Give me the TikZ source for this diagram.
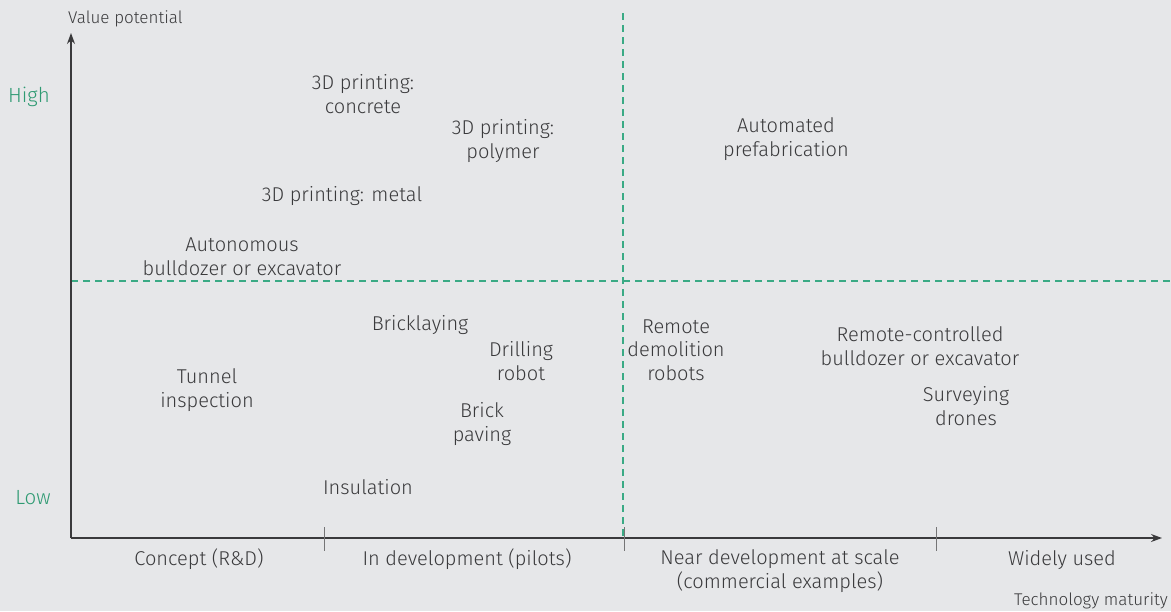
\documentclass[tikz,border=0pt]{standalone}
\usepackage{fontspec}
\setmainfont{Fira Sans}[UprightFont=* Light]
\usetikzlibrary{arrows.meta}
\definecolor{bg}{HTML}{E6E7E9}
\definecolor{ink}{HTML}{3A3A3C}
\definecolor{accent}{HTML}{2E9A72}
\definecolor{dashgreen}{HTML}{3AAA85}
\tikzset{
  px/.style={x=1pt,y=-1pt},
  item/.style={text=ink,align=center,font=\fontsize{20}{23.5}\selectfont,inner sep=0pt},
  small/.style={text=ink,font=\fontsize{17}{20}\selectfont,inner sep=0pt},
  level/.style={text=accent,font=\fontsize{20.5}{24}\selectfont,inner sep=0pt},
  axis/.style={draw=ink,line width=1.2pt},
  tick/.style={draw=ink!70,line width=0.9pt},
  guideline/.style={draw=dashgreen,line width=1.1pt,dash pattern=on 7pt off 5pt},
}
\begin{document}
\begin{tikzpicture}[px]
\fill[bg] (0,0) rectangle (1171,611);
\useasboundingbox (0,0) rectangle (1171,611);

% quadrant guides
\coordinate (va) at (623,13); \coordinate (vb) at (623,538);
\coordinate (ha) at (71,281); \coordinate (hb) at (1171,281);
\draw[guideline] (va) -- (vb);
\draw[guideline] (ha) -- (hb);

% axes
\coordinate (O) at (71,538);
\coordinate (ytop) at (71,33);
\coordinate (xend) at (1162,538);
\draw[axis,-{Stealth[length=11pt,width=8pt]}] (O) -- (ytop);
\draw[axis,-{Stealth[length=11pt,width=8pt]}] (O) -- (xend);

% ticks between maturity stages
\coordinate (t1a) at (324,527); \coordinate (t1b) at (324,551);
\coordinate (t2a) at (624,527); \coordinate (t2b) at (624,551);
\coordinate (t3a) at (936,527); \coordinate (t3b) at (936,551);
\draw[tick] (t1a) -- (t1b);
\draw[tick] (t2a) -- (t2b);
\draw[tick] (t3a) -- (t3b);

% axis titles and levels
\node[small,anchor=base west] (yt) at (68,23) {Value potential};
\node[small,anchor=base east] (xt) at (1168,605) {Technology maturity};
\node[level] (high) at (29,97) {High};
\node[level] (low) at (33,498) {Low};

% maturity stages
\node[item,anchor=base] (s1) at (199,565) {Concept (R\&D)};
\node[item,anchor=base] (s2) at (467,565) {In development (pilots)};
\node[item] (s3) at (780,571) {Near development at scale\\(commercial examples)};
\node[item,anchor=base] (s4) at (1062,565) {Widely used};

% technologies
\node[item] (a1) at (363,94) {3D printing:\\concrete};
\node[item] (a2) at (503,141) {3D printing:\\polymer};
\node[item] (a3) at (342,196) {3D printing: metal};
\node[item] (a4) at (242,257) {Autonomous\\bulldozer or excavator};
\node[item] (a5) at (786,139) {Automated\\prefabrication};
\node[item] (b1) at (420,325) {Bricklaying};
\node[item] (b2) at (521,361) {Drilling\\robot};
\node[item] (b3) at (207,390) {Tunnel\\inspection};
\node[item] (b4) at (482,424) {Brick\\paving};
\node[item] (b5) at (368,487) {Insulation};
\node[item] (c1) at (676,350) {Remote\\demolition\\robots};
\node[item] (c2) at (920,346) {Remote-controlled\\bulldozer or excavator};
\node[item] (c3) at (966,406) {Surveying\\drones};
\end{tikzpicture}
\end{document}
